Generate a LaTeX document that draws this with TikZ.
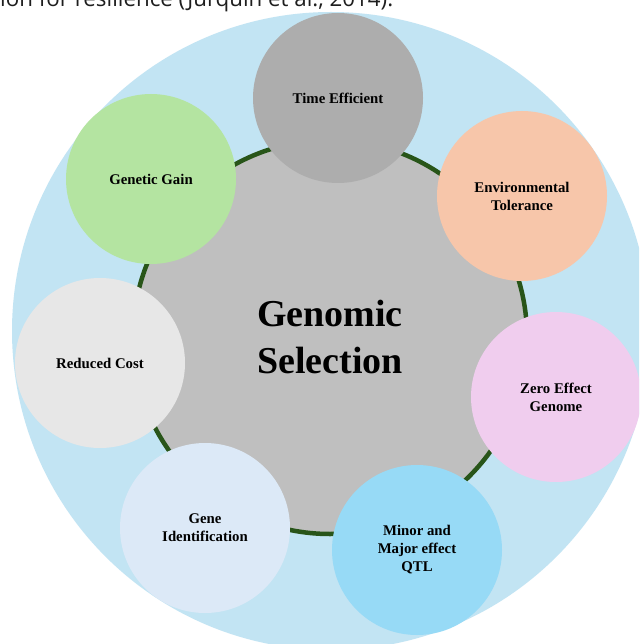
\documentclass[tikz,border=0pt]{standalone}
\usepackage{fontspec}
\setmainfont{Liberation Serif}
\newfontfamily\hdrfont{Open Sans}
\definecolor{skyring}{RGB}{194,228,243}
\definecolor{centergray}{RGB}{191,191,191}
\definecolor{ringgreen}{RGB}{40,85,25}
\definecolor{timegray}{RGB}{173,173,173}
\definecolor{peach}{RGB}{247,198,170}
\definecolor{pinkl}{RGB}{240,205,238}
\definecolor{qtlblue}{RGB}{151,218,246}
\definecolor{genepale}{RGB}{220,233,247}
\definecolor{costgray}{RGB}{231,231,231}
\definecolor{gaingreen}{RGB}{180,228,161}
\definecolor{hdrtext}{RGB}{30,30,30}
\tikzset{
  sat/.style={circle, minimum size=170pt, inner sep=0pt, align=center,
    font=\fontsize{14.8}{18}\selectfont\bfseries, text=black},
}
\begin{document}
\begin{tikzpicture}[x=1pt,y=-1pt]
\useasboundingbox (0,0) rectangle (639,644);
\clip (0,0) rectangle (639,644);
\fill[white] (0,0) rectangle (639,644);
% header line (cropped)
\node[anchor=base west, inner sep=0pt, text=hdrtext] (hdr) at (0,7)
  {\resizebox{393pt}{!}{\hdrfont ion for resilience (Jurquin et al., 2014).}};
% outer ring
\node[circle, minimum size=638pt, inner sep=0pt, fill=skyring] (outer) at (331,331) {};
% central circle
\node[circle, minimum size=394pt, inner sep=0pt, fill=centergray, draw=ringgreen,
  line width=4.5pt, align=center, font=\fontsize{38}{47}\selectfont\bfseries] (gs)
  at (330,337) {Genomic\\Selection};
% satellites
\node[sat, fill=timegray] (time) at (338,98) {Time Efficient};
\node[sat, fill=peach] (env) at (522,196) {Environmental\\Tolerance};
\node[sat, fill=pinkl] (zero) at (556,397) {Zero Effect\\Genome};
\node[sat, fill=qtlblue] (qtl) at (417,550) {Minor and\\Major effect\\QTL};
\node[sat, fill=genepale] (gene) at (205,528) {Gene\\Identification};
\node[sat, fill=costgray] (cost) at (100,363) {Reduced Cost};
\node[sat, fill=gaingreen] (gain) at (151,179) {Genetic Gain};
\end{tikzpicture}
\end{document}
